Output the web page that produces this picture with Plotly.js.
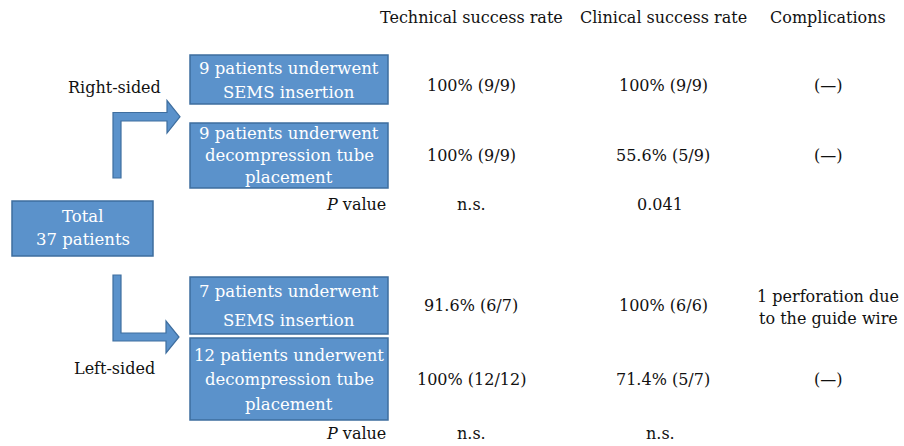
<!DOCTYPE html>
<html>
<head>
<meta charset="utf-8">
<script src="https://cdn.plot.ly/plotly-3.0.1.min.js"></script>
<style>
html,body{margin:0;padding:0;background:#fff;}
#chart{width:904px;height:446px;}
</style>
</head>
<body>
<div id="chart"></div>
<script>
// ---- data ----
var headers = ["Technical success rate", "Clinical success rate", "Complications"];
var groups = ["Right-sided", "Left-sided"];
var totalLabel = ["Total", "37 patients"];
var treatments = [
  ["9 patients underwent", "SEMS insertion"],
  ["9 patients underwent", "decompression tube", "placement"],
  ["7 patients underwent", "SEMS insertion"],
  ["12 patients underwent", "decompression tube", "placement"]
];
var technical = ["100% (9/9)", "100% (9/9)", "91.6% (6/7)", "100% (12/12)"];
var clinical = ["100% (9/9)", "55.6% (5/9)", "100% (6/6)", "71.4% (5/7)"];
var complications = [["(—)"], ["(—)"], ["1 perforation due", "to the guide wire"], ["(—)"]];
var pTechnical = ["n.s.", "n.s."];
var pClinical = ["0.041", "n.s."];

// ---- layout geometry ----
var FONT = "DejaVu Serif";
var FILL = "#5B92CB", EDGE = "#3E6E9F";
var colX = [471, 663, 828];
var headerY = 17;
var boxes = [
  {x0:190, x1:388, y0:55, y1:104, lines:[68, 92]},
  {x0:190, x1:388, y0:123, y1:188, lines:[133, 155, 177]},
  {x0:190, x1:388, y0:277, y1:334, lines:[291, 320]},
  {x0:190, x1:388, y0:338, y1:420, lines:[355, 379, 404]}
];
var rowY = [85, 155, 305, 379];
var compLines = [[85], [155], [296, 318], [379]];
var pY = [204, 433];
var groupPos = [{x:114, y:87}, {x:114, y:368}];
var totalBox = {x0:12, x1:153, y0:201, y1:256, lines:[216, 239]};

var shapes = [];
var ann = [];
function txt(x, y, t, opts) {
  opts = opts || {};
  ann.push({x:x, y:y, xref:'x', yref:'y', text:t, showarrow:false,
    xanchor: opts.xanchor || 'center', yanchor:'middle',
    font:{family:FONT, size: opts.size || 16, color: opts.color || '#111'}});
}
function box(b, lines) {
  shapes.push({type:'rect', xref:'x', yref:'y', x0:b.x0, x1:b.x1, y0:b.y0, y1:b.y1,
    fillcolor:FILL, line:{color:EDGE, width:1.5}, layer:'below'});
  lines.forEach(function(l, i){ txt((b.x0+b.x1)/2, b.lines[i], l, {color:'#fff', size:16.5}); });
}

// arrows
shapes.push({type:'path', xref:'x', yref:'y',
  path:'M113,178 L113,112.5 L167,112.5 L167,100.5 L180,116.7 L167,133 L167,121 L121,121 L121,178 Z',
  fillcolor:FILL, line:{color:EDGE, width:1.2}});
shapes.push({type:'path', xref:'x', yref:'y',
  path:'M113,275 L113,341 L166,341 L166,353 L179,337 L166,321 L166,333 L121,333 L121,275 Z',
  fillcolor:FILL, line:{color:EDGE, width:1.2}});

box(totalBox, totalLabel);
boxes.forEach(function(b, i){ box(b, treatments[i]); });

headers.forEach(function(h, i){ txt(colX[i], headerY, h); });
groups.forEach(function(g, i){ txt(groupPos[i].x, groupPos[i].y, g); });
for (var r = 0; r < 4; r++) {
  txt(colX[0], rowY[r], technical[r]);
  txt(colX[1], rowY[r], clinical[r]);
  complications[r].forEach(function(c, j){ txt(colX[2], compLines[r][j], c); });
}
for (var p = 0; p < 2; p++) {
  txt(388, pY[p], '<i>P</i> value', {xanchor:'right'});
  txt(colX[0], pY[p], pTechnical[p]);
  txt(colX[1] - 3, pY[p], pClinical[p]);
}

var layout = {
  width:904, height:446,
  margin:{l:0, r:0, t:0, b:0},
  paper_bgcolor:'#fff', plot_bgcolor:'#fff',
  font:{family:FONT},
  xaxis:{range:[0,904], visible:false, fixedrange:true},
  yaxis:{range:[446,0], visible:false, fixedrange:true},
  showlegend:false,
  shapes:shapes,
  annotations:ann
};
Plotly.newPlot('chart', [], layout, {staticPlot:true, displayModeBar:false});
</script>
</body>
</html>
